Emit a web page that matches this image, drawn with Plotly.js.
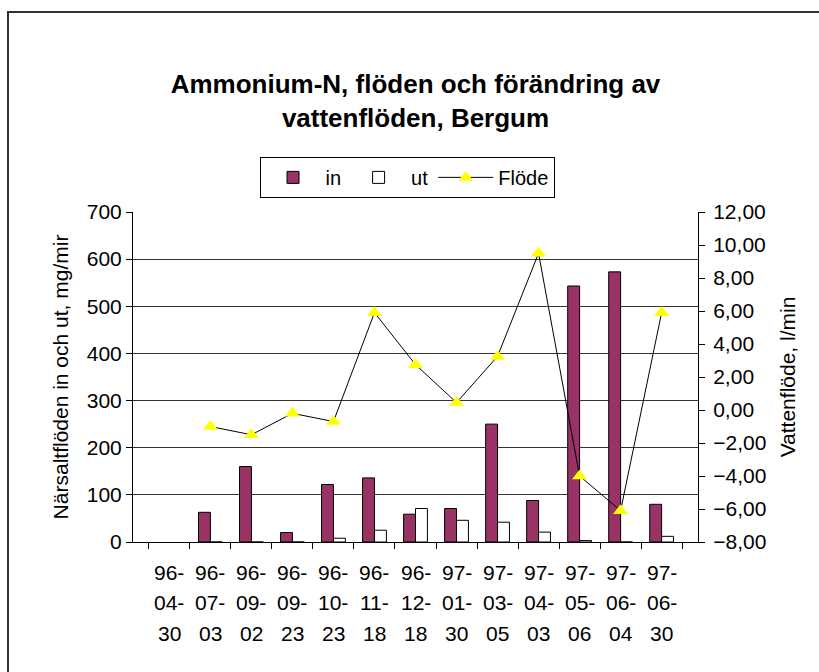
<!DOCTYPE html>
<html>
<head>
<meta charset="utf-8">
<script src="https://cdn.plot.ly/plotly-3.0.1.min.js"></script>
<style>
  html, body { margin: 0; padding: 0; width: 819px; height: 672px; overflow: hidden; background: #fff; }
  #frame { position: absolute; left: 7px; top: 11px; width: 840px; height: 700px; border: 2px solid #333; box-sizing: border-box; }
  #chart { position: absolute; left: 0; top: 0; width: 819px; height: 672px; }
</style>
</head>
<body>
<div id="frame"></div>
<div id="chart"></div>
<script>
// ---- data ----
const categories = ["96-04-30","96-07-03","96-09-02","96-09-23","96-10-23","96-11-18","96-12-18",
                    "97-01-30","97-03-05","97-04-03","97-05-06","97-06-04","97-06-30"];
const inValues  = [null, 63, 160, 20, 122, 136, 59, 71, 250, 88, 543, 573, 80];
const utValues  = [null, 0, 0, 0, 8, 25, 71, 46, 42, 21, 3, 0, 12];
const flodeValues = [null, -1.0, -1.5, -0.2, -0.7, 5.9, 2.75, 0.45, 3.25, 9.5, -4.0, -6.1, 5.9];
const titleText = "Ammonium-N, flöden och förändring av<br>vattenflöden, Bergum";
const leftTitle = "Närsaltflöden in och ut, mg/mir";
const rightTitle = "Vattenflöde, l/min";

const FONT = "Arial, 'Liberation Sans', sans-serif";
const FS = 21;

const traces = [
  { type: "bar", name: "in", x: categories, y: inValues,
    marker: { color: "#993366", line: { color: "#000", width: 1 } } },
  { type: "bar", name: "ut", x: categories, y: utValues,
    marker: { color: "#ffffff", line: { color: "#000", width: 1 } } },
  { type: "scatter", mode: "lines+markers", name: "Flöde", x: categories, y: flodeValues,
    yaxis: "y2", connectgaps: false,
    line: { color: "#000", width: 1 },
    marker: { symbol: "triangle-up", size: 13, color: "#ffff00", line: { width: 0 } } }
];

// multi-line category labels as annotations (one row per part)
const rowY = [-0.091, -0.182, -0.276];
const annotations = [];
categories.forEach(c => {
  const parts = c.split("-");
  const rows = [parts[0] + "-", parts[1] + "-", parts[2]];
  rows.forEach((t, i) => {
    annotations.push({ x: c, xref: "x", y: rowY[i], yref: "paper", text: t,
      showarrow: false, xanchor: "center", yanchor: "middle",
      font: { family: FONT, size: FS, color: "#000" } });
  });
});

const layout = {
  width: 819, height: 672,
  paper_bgcolor: "rgba(0,0,0,0)", plot_bgcolor: "rgba(0,0,0,0)",
  margin: { l: 133, r: 121, t: 212, b: 130 },
  separators: ", ",
  font: { family: FONT, size: FS, color: "#000" },
  title: { text: titleText, x: 0.5, xref: "paper", xanchor: "center",
           y: 1 - 93 / 672, yref: "container", yanchor: "middle",
           font: { family: FONT, size: 26, color: "#000", weight: "bold" } },
  barmode: "group", bargap: 0.42, bargroupgap: 0,
  showlegend: true,
  legend: { orientation: "h", x: 0.485, xanchor: "center", y: 1.167, yanchor: "top",
            bordercolor: "#000", borderwidth: 1, bgcolor: "#fff",
            font: { family: FONT, size: 20, color: "#000" },
            traceorder: "normal", itemwidth: 55 },
  xaxis: { type: "category", showline: true, linecolor: "#000", linewidth: 1,
           ticks: "outside", ticklen: 6, tickcolor: "#000", tickson: "boundaries",
           showticklabels: false, showgrid: false, zeroline: false, fixedrange: true },
  yaxis: { range: [0, 700], dtick: 100, showline: true, linecolor: "#000", linewidth: 1,
           ticks: "outside", ticklen: 6, tickcolor: "#000",
           showgrid: true, gridcolor: "#333", gridwidth: 1, zeroline: false,
           tickfont: { family: FONT, size: FS },
           title: { text: leftTitle, standoff: 12, font: { family: FONT, size: FS } } },
  yaxis2: { overlaying: "y", side: "right", range: [-8, 12], dtick: 2, tickformat: ".2f",
            showline: true, linecolor: "#000", linewidth: 1,
            ticks: "outside", ticklen: 6, tickcolor: "#000", ticklabelstandoff: 4,
            showgrid: false, zeroline: false,
            tickfont: { family: FONT, size: FS },
            title: { text: rightTitle, standoff: 14, font: { family: FONT, size: FS } } },
  annotations: annotations
};

Plotly.newPlot("chart", traces, layout, { displayModeBar: false, staticPlot: true });
</script>
</body>
</html>
